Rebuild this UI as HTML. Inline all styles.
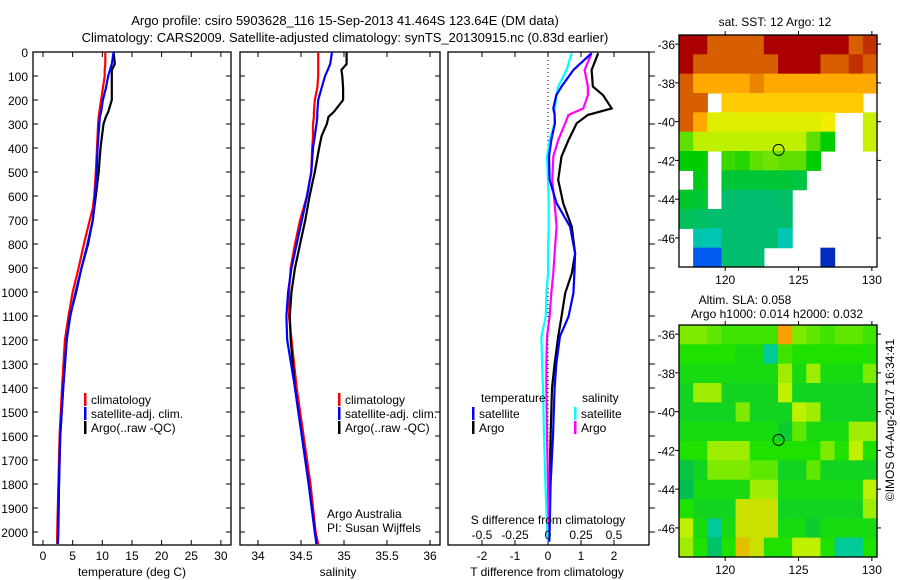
<!DOCTYPE html>
<html><head><meta charset="utf-8"><style>
body{margin:0;background:#fff;}
svg{display:block;font-family:"Liberation Sans",sans-serif;}
text{fill:#000;}
</style></head><body>
<svg id="chart" width="900" height="580" viewBox="0 0 900 580" xmlns="http://www.w3.org/2000/svg">
<text x="345" y="25" font-size="13" text-anchor="middle">Argo profile: csiro 5903628_116 15-Sep-2013 41.464S 123.64E (DM data)</text>
<text x="345" y="42" font-size="13" text-anchor="middle">Climatology: CARS2009. Satellite-adjusted climatology: synTS_20130915.nc (0.83d earlier)</text>
<g id="g"></g>
</svg>
<script>
// ---------- profile data ----------
const tDepth=[0,50,75,100,150,200,250,270,300,400,500,600,650,700,800,900,1000,1100,1200,1400,1600,1800,2000,2050];
const tClim=[10.5,10.5,10.4,10.4,10.1,9.8,9.5,9.4,9.3,9.1,8.9,8.65,8.4,7.9,6.9,6.0,5.0,4.3,3.7,3.2,2.8,2.6,2.4,2.4];
const tSat=[11.9,11.6,11.3,11.0,10.6,10.1,9.8,9.6,9.5,9.2,9.05,8.77,8.6,8.4,7.5,6.5,5.5,4.6,4.0,3.4,2.9,2.7,2.6,2.5];
const tArgo=[11.9,12.1,11.6,11.6,11.6,11.6,11.0,10.6,10.2,9.7,9.4,8.9,8.65,8.4,7.6,6.5,5.6,4.55,4.0,3.4,2.9,2.7,2.55,2.5];
const sDepth=[0,50,75,100,150,200,250,270,300,350,400,500,600,700,800,900,1000,1100,1200,1400,1600,1800,2000,2050];
const sClim=[34.70,34.70,34.70,34.70,34.69,34.66,34.65,34.65,34.64,34.64,34.63,34.62,34.57,34.49,34.43,34.38,34.36,34.36,34.39,34.45,34.53,34.61,34.67,34.70];
const sSat=[34.86,34.84,34.81,34.78,34.74,34.70,34.69,34.69,34.68,34.66,34.64,34.62,34.57,34.51,34.45,34.39,34.35,34.33,34.34,34.43,34.51,34.59,34.66,34.68];
const sArgo=[35.03,35.03,34.97,34.98,34.99,34.99,34.88,34.82,34.80,34.74,34.71,34.66,34.60,34.55,34.49,34.43,34.39,34.37,34.38,34.43,34.51,34.59,34.66,34.68];
const dDepth=[5,75,144,180,235,262,297,367,436,533,630,728,839,922,1005,1103,1186,1300,1400,1600,1800,2000,2040];
const dTArgo=[1.52,1.32,1.36,1.67,1.93,1.21,0.87,0.62,0.41,0.31,0.46,0.72,0.82,0.72,0.52,0.41,0.31,0.2,0.12,0.08,0.05,0.03,0.02];
const dTSat=[1.32,0.77,0.41,0.25,0.16,0.2,0.21,0.1,0.03,0.05,0.26,0.67,0.82,0.8,0.77,0.62,0.36,0.25,0.2,0.15,0.08,0.05,0.04];
const dSArgo=[1.32,1.11,1.21,1.21,1.07,0.62,0.52,0.31,0.16,0.13,0.2,0.26,0.2,0.16,0.1,0.05,-0.03,-0.05,-0.05,-0.03,0,0.02,0.02];
const dSSat=[0.72,0.56,0.31,0.25,0.21,0.2,0.2,0.05,-0.03,0,0.02,0.02,0,0,-0.05,-0.07,-0.2,-0.18,-0.15,-0.12,-0.08,-0.02,0];
const depthTicks=[0,100,200,300,400,500,600,700,800,900,1000,1100,1200,1300,1400,1500,1600,1700,1800,1900,2000];
const tempTicks=[0,5,10,15,20,25,30];
const salTicks=[34,34.5,35,35.5,36];
const tdTicks=[-2,-1,0,1,2];
const sdTicks=[-0.5,-0.25,0,0.25,0.5];
const sdLabels=["-0.5","-0.25","0","0.25","0.5"];
// ---------- map data (rows N->S, cols W->E; null = no data) ----------
const sstLatTicks=[-36,-38,-40,-42,-44,-46];
const lonTicks=[120,125,130];
const sstGrid=[
[19,19,18,18,18,18,19,19,19,19,19,19,18,18.5],
[19,18,18,18,18,18,18,19,19,19,18,18,18.5,18],
[18,17,17,17,17,17.5,17,17,17,17,17,17,17,17],
[18,18,null,16.5,16.5,16.5,16.5,16.5,16.5,16.5,16.5,16.5,16.5,null],
[18,17,15.5,15.5,15.5,15.5,15.5,15.5,15.5,15.5,15.8,null,null,15.2],
[14.5,15,15,15,15,15,15,15,15,14.5,14,null,null,15.2],
[14,14,null,14.3,14.2,14.5,14.6,14.5,14.5,14,null,null,null,null],
[null,13.8,null,13.5,13.5,13.5,13.5,13.5,13.4,null,null,null,null,null],
[13.6,13.5,null,13,13,13,13,13.1,null,null,null,null,null,null],
[13.2,13.1,13,13,13,13,13,13,null,null,null,null,null,null],
[null,12.3,12.2,13,13,13,13,12.2,null,null,null,null,null,null],
[null,10,10,13,13,13,null,null,null,null,9.5,null,null,null]];
const slaGrid=[
[0.3,0.3,0.2,0.1,0.1,0.1,0.1,1.0,0.3,0.2,0.1,0.2,0.2,0.1],
[0,0,0,0,-0.1,-0.1,-0.8,0.1,0,0,0,0,0,0],
[-0.1,-0.1,-0.1,-0.1,-0.1,-0.1,-0.1,0.4,-0.1,0.4,-0.1,-0.1,-0.1,0.3],
[-0.2,0.4,0.4,-0.2,-0.2,-0.2,-0.2,0.5,-0.2,-0.2,-0.2,-0.2,-0.2,-0.2],
[-0.2,-0.2,-0.2,-0.2,0.3,-0.2,-0.2,-0.2,0.5,0.4,-0.2,-0.2,-0.2,-0.2],
[-0.1,-0.1,-0.1,-0.1,-0.1,-0.1,-0.1,-0.3,0.2,-0.1,-0.1,-0.1,0.4,0.4],
[0,0,0.4,0.4,0.4,0,0,0,0,0,0.3,0,0.5,0],
[-0.4,-0.2,0.3,0.3,0.3,0.2,0.2,-0.2,-0.2,0.2,-0.2,-0.2,-0.2,-0.2],
[-0.5,-0.1,-0.1,-0.1,-0.1,0.4,0.4,-0.1,-0.1,-0.1,-0.1,-0.1,-0.1,0.5],
[0,-0.2,-0.2,-0.2,0.6,0.6,0.6,-0.2,-0.2,-0.2,-0.2,-0.2,-0.2,0.4],
[0.5,-0.1,-0.8,-0.1,0.6,0.6,0.6,-0.1,-0.1,-0.3,-0.1,-0.1,-0.1,-0.1],
[0.4,0,-0.6,0,0.8,0.6,0,0,0.5,0.5,0,-0.8,-0.8,0]];
const argoPos=[123.64,-41.46];

const NS="http://www.w3.org/2000/svg";
const G=document.getElementById('g');
function mk(tag,attrs,parent){const e=document.createElementNS(NS,tag);for(const k in attrs)e.setAttribute(k,attrs[k]);(parent||G).appendChild(e);return e;}
function txt(x,y,s,anchor,size,parent){const t=mk('text',{x:x,y:y,'font-size':size||12,'text-anchor':anchor||'start'},parent);t.textContent=s;return t;}

const Y0=52,DPX=0.24;
const yD=d=>Y0+d*DPX;
const PB=545;
const xT=v=>43+v*5.93;
const xS=v=>258+(v-34)*86;
const xDT=v=>548+v*33;
const xDS=v=>548+v*132;

function panel(name,x0,x1){
  const g=mk('g',{});
  
  
  mk('rect',{x:x0,y:Y0,width:x1-x0,height:PB-Y0,fill:'none',stroke:'#000','stroke-width':1.3},g);
  return g;
}
function line(g,xs,ds,fx,color,name,w){
  const p=xs.map((v,i)=>fx(v).toFixed(1)+','+yD(ds[i]).toFixed(1)).join(' ');
  const l=mk('polyline',{points:p,fill:'none',stroke:color,'stroke-width':w||2.2,'stroke-linejoin':'miter'},g);
  
  
}
function xticks(g,ticks,fx,labels,yLab){
  ticks.forEach((t,i)=>{const x=fx(t);
    mk('line',{x1:x,x2:x,y1:PB,y2:PB-5,stroke:'#000'},g);
    mk('line',{x1:x,x2:x,y1:Y0,y2:Y0+5,stroke:'#000'},g);
    const l=txt(x,yLab,labels?labels[i]:String(t),'middle',12,g);
    
    });
}
function yticks(g,x0,x1,inside){
  depthTicks.forEach(d=>{const y=yD(d);
    if(inside){mk('line',{x1:x0,x2:x0+5,y1:y,y2:y,stroke:'#000'},g);mk('line',{x1:x1,x2:x1-5,y1:y,y2:y,stroke:'#000'},g);}
    else{mk('line',{x1:x1,x2:x1+6,y1:y,y2:y,stroke:'#000'},g);}});
}
function legend(g,x,y,items){
  items.forEach((it,i)=>{
    const yy=y+i*14;
    const b=mk('rect',{x:x,y:yy-10,width:2.5,height:13,fill:it[1]},g);
    
    
    const t=txt(x+7,yy+1,it[0],'start',12,g);
    
    });
}
const p1=panel('temperature-panel',33,231);
yticks(p1,33,231,true);
depthTicks.forEach(d=>{const t=txt(28,yD(d)+5,String(d),'end',12,p1);});
xticks(p1,tempTicks,xT,null,560);
line(p1,tClim,tDepth,xT,'#f00','temperature-climatology-line');
line(p1,tArgo,tDepth,xT,'#000','temperature-argo-line');
line(p1,tSat,tDepth,xT,'#00f','temperature-satellite-line');
let t=txt(132,576,'temperature (deg C)','middle',12,p1);
legend(p1,84,403,[['climatology','#f00'],['satellite-adj. clim.','#00f'],['Argo(..raw -QC)','#000']]);
const p2=panel('salinity-panel',240,440);
yticks(p2,240,440,true);
xticks(p2,salTicks,xS,['34','34.5','35','35.5','36'],560);
line(p2,sClim,sDepth,xS,'#f00','salinity-climatology-line');
line(p2,sArgo,sDepth,xS,'#000','salinity-argo-line');
line(p2,sSat,sDepth,xS,'#00f','salinity-satellite-line');
t=txt(338,576,'salinity','middle',12,p2);
legend(p2,338,403,[['climatology','#f00'],['satellite-adj. clim.','#00f'],['Argo(..raw -QC)','#000']]);
t=txt(327,518,'Argo Australia','start',12,p2);
t=txt(327,532,'PI: Susan Wijffels','start',12,p2);
const p3=panel('difference-panel',448,649);
yticks(p3,448,649,false);
xticks(p3,tdTicks,xDT,null,560);
mk('line',{x1:548,x2:548,y1:Y0,y2:PB,stroke:'#000','stroke-dasharray':'1,3'},p3);
line(p3,dTArgo,dDepth,xDT,'#000','tdiff-argo-line');
line(p3,dSArgo,dDepth,xDT,'#f0f','sdiff-argo-line');
line(p3,dSSat,dDepth,xDT,'#0ff','sdiff-satellite-line');
line(p3,dTSat,dDepth,xDT,'#00f','tdiff-satellite-line');
t=txt(547,576,'T difference from climatology','middle',12,p3);
t=txt(548,524,'S difference from climatology','middle',12,p3);
sdTicks.forEach((v,i)=>{const l=txt(xDS(v),539,sdLabels[i],'middle',12,p3);});
t=txt(481,402,'temperature','start',12,p3);
t=txt(582,402,'salinity','start',12,p3);
legend(p3,472,417,[['satellite','#00f'],['Argo','#000']]);
legend(p3,574,417,[['satellite','#0ff'],['Argo','#f0f']]);

const LON0=116.85,LON1=130.35,LAT0=-35.53,LAT1=-47.5;
function sstColor(v){
  const stops=[[9,[0,0,140]],[10,[0,90,240]],[11,[0,160,255]],[12,[0,200,200]],[13,[0,190,110]],[14,[0,205,0]],[15,[190,240,0]],[16,[255,235,0]],[17,[255,170,0]],[18,[215,95,0]],[19,[170,0,0]]];
  if(v<=stops[0][0])return 'rgb('+stops[0][1]+')';
  for(let i=1;i<stops.length;i++){if(v<=stops[i][0]){const a=stops[i-1],b=stops[i],f=(v-a[0])/(b[0]-a[0]);return 'rgb('+a[1].map((c,k)=>Math.round(c+(b[1][k]-c)*f)).join(',')+')';}}
  return 'rgb('+stops[stops.length-1][1]+')';
}
function slaColor(v){
  const stops=[[-1,[0,210,200]],[-0.5,[0,190,80]],[0,[30,225,0]],[0.5,[190,240,0]],[1,[250,160,0]]];
  for(let i=1;i<stops.length;i++){if(v<=stops[i][0]){const a=stops[i-1],b=stops[i],f=Math.max(0,(v-a[0])/(b[0]-a[0]));return 'rgb('+a[1].map((c,k)=>Math.round(c+(b[1][k]-c)*f)).join(',')+')';}}
  return 'rgb('+stops[stops.length-1][1]+')';
}
function map(name,x0,y0,x1,y1,grid,colorFn,latTicks){
  const g=mk('g',{});
  
  
  const fx=lo=>x0+(lo-LON0)/(LON1-LON0)*(x1-x0);
  const fy=la=>y0+(la-LAT0)/(LAT1-LAT0)*(y1-y0);
  const rows=grid.length,cols=grid[0].length,cw=(x1-x0)/cols,ch=(y1-y0)/rows;
  grid.forEach((row,r)=>row.forEach((v,c)=>{if(v===null)return;
    const cell=mk('rect',{x:(x0+c*cw).toFixed(2),y:(y0+r*ch).toFixed(2),width:(cw+0.6).toFixed(2),height:(ch+0.6).toFixed(2),fill:colorFn(v)},g);
    
    }));
  mk('rect',{x:x0,y:y0,width:x1-x0,height:y1-y0,fill:'none',stroke:'#000','stroke-width':1.3},g);
  latTicks.forEach(la=>{const y=fy(la);mk('line',{x1:x0-4,x2:x0,y1:y,y2:y,stroke:'#000'},g);mk('line',{x1:x1,x2:x1+4,y1:y,y2:y,stroke:'#000'},g);
    const l=txt(x0-4,y+5,String(la),'end',12,g);});
  lonTicks.forEach(lo=>{const x=fx(lo);mk('line',{x1:x,x2:x,y1:y1,y2:y1+4,stroke:'#000'},g);mk('line',{x1:x,x2:x,y1:y0-4,y2:y0,stroke:'#000'},g);
    const l=txt(x,y1+17,String(lo),'middle',12,g);});
  const c=mk('circle',{cx:fx(argoPos[0]),cy:fy(argoPos[1]),r:5.5,fill:'none',stroke:'#000','stroke-width':1},g);
  
  
}
map('sst-map',679,35,877,267,sstGrid,sstColor,sstLatTicks);
map('sla-map',679,325,877,557,slaGrid,slaColor,sstLatTicks);
t=txt(775,26,'sat. SST: 12 Argo: 12','middle',12);
t=txt(745,304,'Altim. SLA: 0.058','middle',12);
t=txt(777,318,'Argo h1000: 0.014 h2000: 0.032','middle',12);
t=txt(0,0,'©IMOS 04-Aug-2017 16:34:41','middle',12);t.setAttribute('transform','translate(894,420) rotate(-90)');
</script>
</body></html>
